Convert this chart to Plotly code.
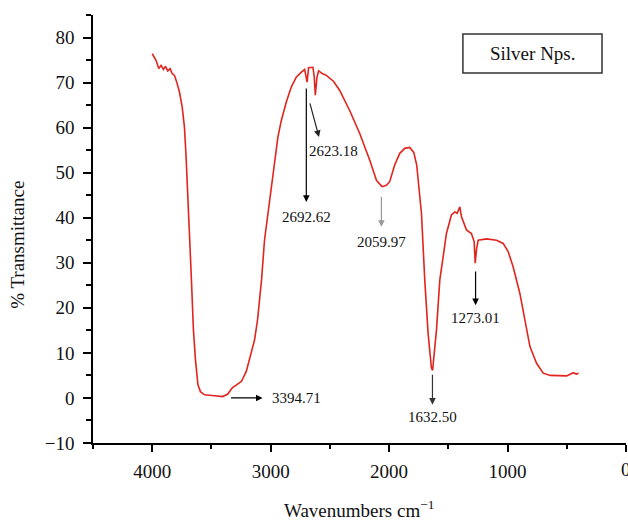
import plotly.graph_objects as go

# Spectrum data (wavenumber cm^-1, % transmittance)
wavenumber = [4000, 3967, 3945, 3925, 3905, 3888, 3869, 3849, 3832, 3812, 3793, 3770, 3747, 3728,
              3714, 3700, 3686, 3669, 3652, 3635, 3614, 3593, 3559, 3474, 3407, 3364, 3322, 3288,
              3246, 3206, 3178, 3136, 3111, 3077, 3052, 3024, 2995, 2967, 2939, 2910, 2868, 2826,
              2784, 2741, 2713, 2699, 2692, 2680, 2665, 2643, 2632, 2623, 2609, 2595, 2564, 2530,
              2470, 2418, 2333, 2248, 2164, 2107, 2060, 2023, 1995, 1953, 1910, 1868, 1826, 1792,
              1767, 1756, 1727, 1699, 1671, 1643, 1633, 1600, 1572, 1544, 1516, 1474, 1445, 1426,
              1403, 1389, 1347, 1305, 1282, 1273, 1262, 1248, 1178, 1093, 1037, 995, 953, 896,
              854, 811, 755, 699, 640, 586, 501, 445, 420, 400]
transmittance = [76.4, 74.9, 73.1, 73.8, 72.9, 73.6, 72.6, 73.1, 72.0, 71.6, 70.1, 67.9, 64.6, 60.1,
                 53.5, 46.1, 36.6, 26.2, 15.1, 8.5, 2.9, 1.4, 0.7, 0.5, 0.3, 0.8, 2.3, 2.9,
                 3.7, 5.9, 8.5, 12.9, 17.3, 26.2, 35.0, 41.0, 46.9, 52.8, 57.9, 61.6, 65.7, 69.0,
                 71.2, 72.3, 72.9, 71.0, 70.1, 73.3, 73.4, 73.4, 71.2, 67.2, 71.2, 72.6, 72.0, 71.6,
                 70.3, 68.3, 63.8, 58.7, 52.8, 48.3, 46.9, 47.2, 48.0, 51.7, 54.3, 55.4, 55.6, 54.5,
                 51.7, 48.3, 41.0, 26.2, 14.4, 6.7, 6.1, 15.1, 26.2, 31.3, 36.5, 40.6, 41.3, 41.0,
                 42.4, 40.2, 37.3, 36.5, 34.7, 29.9, 33.0, 35.0, 35.3, 35.0, 34.3, 32.5, 29.1, 23.2,
                 17.3, 11.4, 7.7, 5.5, 5.0, 4.9, 4.9, 5.6, 5.3, 5.5]

# Peak labels
peak_labels = ["3394.71", "2692.62", "2623.18", "2059.97", "1632.50", "1273.01"]
legend_label = "Silver Nps."

x_tick_vals = [4000, 3000, 2000, 1000, 0]
y_tick_vals = [-10, 0, 10, 20, 30, 40, 50, 60, 70, 80]

FONT = "Liberation Serif, Times New Roman, serif"
RED = "#E1241D"

fig = go.Figure()
fig.add_trace(go.Scatter(x=wavenumber, y=transmittance, mode="lines",
                         line=dict(color=RED, width=1.6), showlegend=False,
                         hoverinfo="skip"))

# arrow geometry: (tail_x, tail_y, head_x, head_y, text_x, text_y, xanchor, shaft colour)
arrow_cfg = [
    (3347, 0.0, 3068, 0.0, 3009, 0.0, "left", "#000000"),
    (2699, 69.0, 2699, 43.5, 2699, 40.2, "center", "#000000"),
    (2672, 65.7, 2592, 57.9, 2470, 54.9, "center", "#222222"),
    (2065, 45.0, 2065, 38.0, 2065, 34.6, "center", "#999999"),
    (1634, 5.5, 1634, -1.5, 1634, -4.2, "center", "#333333"),
    (1270, 28.4, 1270, 20.6, 1270, 17.7, "center", "#000000"),
]

annotations = []
for lab, (tx, ty, hx, hy, lx, ly, anc, col) in zip(peak_labels, arrow_cfg):
    annotations.append(dict(x=hx, y=hy, ax=tx, ay=ty, xref="x", yref="y", axref="x", ayref="y",
                            text="", showarrow=True, arrowhead=2, arrowsize=1.1,
                            arrowwidth=1.2, arrowcolor=col, standoff=0, startstandoff=0))
    annotations.append(dict(x=lx, y=ly, xref="x", yref="y", text=lab, showarrow=False,
                            xanchor=anc, yanchor="middle",
                            font=dict(family=FONT, size=15, color="#111111")))

# the last x tick label sits on the figure edge (cut off in the reference)
annotations.append(dict(x=x_tick_vals[-1], y=-0.063, xref="x", yref="paper",
                        text=str(x_tick_vals[-1]), showarrow=False,
                        xanchor="center", yanchor="middle",
                        font=dict(family=FONT, size=19, color="#111111")))

# legend box text
annotations.append(dict(x=0.8246, y=0.910, xref="paper", yref="paper", text=legend_label,
                        showarrow=False, xanchor="center", yanchor="middle",
                        font=dict(family=FONT, size=19, color="#111111")))
# axis titles
annotations.append(dict(x=0.499, y=-0.154, xref="paper", yref="paper",
                        text="Wavenumbers cm<sup>−1</sup>", showarrow=False,
                        xanchor="center", yanchor="middle",
                        font=dict(family=FONT, size=19, color="#111111")))
annotations.append(dict(x=-0.1407, y=0.463, xref="paper", yref="paper",
                        text="% Transmittance", showarrow=False, textangle=-90,
                        xanchor="center", yanchor="middle",
                        font=dict(family=FONT, size=19, color="#111111")))

fig.update_layout(
    width=628, height=521,
    margin=dict(l=93, r=2, t=15, b=78),
    paper_bgcolor="white", plot_bgcolor="white",
    showlegend=False,
    annotations=annotations,
    shapes=[dict(type="rect", xref="paper", yref="paper", x0=0.694, x1=0.955,
                 y0=0.8645, y1=0.9556, line=dict(color="#333333", width=1.5))],
    xaxis=dict(range=[4500, 0], tickvals=x_tick_vals, ticks="outside", ticklen=7,
               tickwidth=1.5, tickcolor="black", showline=True, linecolor="black",
               linewidth=1.6, showgrid=False, zeroline=False,
               tickfont=dict(family=FONT, size=19, color="#111111"),
               minor=dict(dtick=500, ticks="outside", ticklen=4, tickcolor="black", tickwidth=1.5),
               ticklabelstandoff=3),
    yaxis=dict(range=[-10, 85], tickvals=y_tick_vals, ticks="outside", ticklen=8,
               tickwidth=1.5, tickcolor="black", showline=True, linecolor="black",
               linewidth=1.6, showgrid=False, zeroline=False,
               tickfont=dict(family=FONT, size=19, color="#111111"),
               minor=dict(dtick=5, ticks="outside", ticklen=5, tickcolor="black", tickwidth=1.5),
               ticklabelstandoff=5),
)

fig.write_html("out.html")
